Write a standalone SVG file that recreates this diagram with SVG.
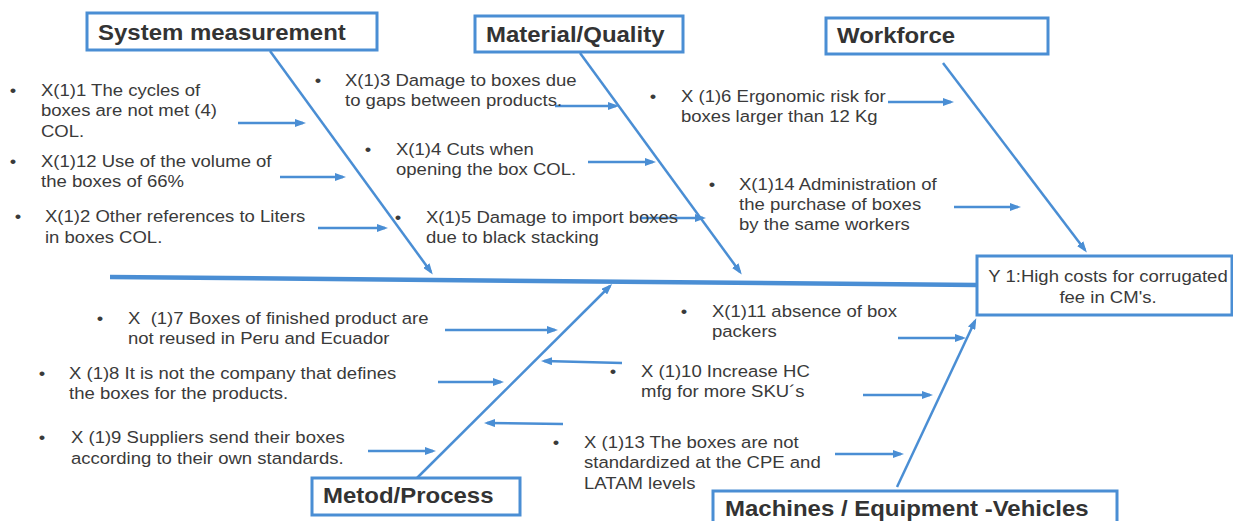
<svg xmlns="http://www.w3.org/2000/svg" width="1233" height="521" viewBox="0 0 1233 521">
<style>
.t{font-family:"Liberation Sans",Arial,sans-serif;font-size:17px;fill:#3a3a3a;white-space:pre}
.b{text-anchor:middle}
.h{font-family:"Liberation Sans",Arial,sans-serif;font-size:22px;font-weight:bold;fill:#333}
.box{fill:#fff;stroke:#4a8ed4;stroke-width:3}
.ln{stroke:#4a8ed4;stroke-width:2.5;fill:none}
.sp{stroke:#4a8ed4;stroke-width:4.5;fill:none}
.ar{marker-end:url(#ah)}
</style>
<defs>
<marker id="ah" markerWidth="11" markerHeight="8" refX="8" refY="4" orient="auto" markerUnits="userSpaceOnUse">
<path d="M0,0 L11,4 L0,8 z" fill="#4a8ed4"/>
</marker>
</defs>
<rect width="1233" height="521" fill="#fff"/>

<g id="connectors">
<line class="sp" x1="110" y1="277" x2="977" y2="285"/>
<line class="ln ar" x1="270" y1="51" x2="431" y2="272"/>
<line class="ln ar" x1="580" y1="53" x2="740" y2="272"/>
<line class="ln ar" x1="943" y1="63" x2="1085" y2="250"/>
<line class="ln ar" x1="417" y1="478" x2="610" y2="286"/>
<line class="ln ar" x1="897" y1="487" x2="975" y2="321"/>
<line class="ln ar" x1="238" y1="123" x2="303" y2="123"/>
<line class="ln ar" x1="280" y1="177" x2="343" y2="177"/>
<line class="ln ar" x1="318" y1="228" x2="385" y2="228"/>
<line class="ln ar" x1="555" y1="106" x2="616" y2="106"/>
<line class="ln ar" x1="588" y1="162" x2="653" y2="162"/>
<line class="ln ar" x1="640" y1="218" x2="703" y2="218"/>
<line class="ln ar" x1="888" y1="102" x2="951" y2="102"/>
<line class="ln ar" x1="954" y1="207" x2="1018" y2="207"/>
<line class="ln ar" x1="445" y1="330" x2="555" y2="330"/>
<line class="ln ar" x1="438" y1="382" x2="501" y2="382"/>
<line class="ln ar" x1="368" y1="451" x2="433" y2="451"/>
<line class="ln ar" x1="622" y1="363" x2="544" y2="361"/>
<line class="ln ar" x1="563" y1="424" x2="487" y2="423"/>
<line class="ln ar" x1="898" y1="338" x2="963" y2="338"/>
<line class="ln ar" x1="863" y1="395" x2="930" y2="395"/>
<line class="ln ar" x1="835" y1="454" x2="901" y2="454"/>
</g>

<g id="system-measurement">
<rect class="box" x="87" y="13" width="290" height="37"/>
<g transform="translate(98,40) scale(1.09,1)"><text class="h" x="0" y="0">System measurement</text></g>
</g>
<g id="material-quality">
<rect class="box" x="475" y="16" width="208" height="36"/>
<g transform="translate(486,42) scale(1.09,1)"><text class="h" x="0" y="0">Material/Quality</text></g>
</g>
<g id="workforce">
<rect class="box" x="826" y="18" width="222" height="36"/>
<g transform="translate(837,43) scale(1.09,1)"><text class="h" x="0" y="0">Workforce</text></g>
</g>
<g id="metod-process">
<rect class="box" x="312" y="478" width="208" height="37"/>
<g transform="translate(323,503) scale(1.09,1)"><text class="h" x="0" y="0">Metod/Process</text></g>
</g>
<g id="machines">
<rect class="box" x="713" y="491" width="404" height="40"/>
<g transform="translate(725,516) scale(1.09,1)"><text class="h" x="0" y="0">Machines / Equipment -Vehicles</text></g>
</g>
<g id="effect">
<rect class="box" x="977" y="256" width="255" height="59"/>
<g transform="translate(1108,282) scale(1.09,1)">
<text class="t b" x="0" y="0">Y 1:High costs for corrugated</text>
<text class="t b" x="0" y="21">fee in CM's.</text>
</g>
</g>

<g id="cause-1" transform="translate(41,96) scale(1.09,1)">
<text class="t b" x="-25.7" y="0">•</text>
<text class="t" x="0" y="0">X(1)1 The cycles of</text>
<text class="t" x="0" y="20">boxes are not met (4)</text>
<text class="t" x="0" y="41">COL.</text>
</g>
<g id="cause-12" transform="translate(41,167) scale(1.09,1)">
<text class="t b" x="-25.7" y="0">•</text>
<text class="t" x="0" y="0">X(1)12 Use of the volume of</text>
<text class="t" x="0" y="20">the boxes of 66%</text>
</g>
<g id="cause-2" transform="translate(45,222) scale(1.09,1)">
<text class="t b" x="-24.8" y="0">•</text>
<text class="t" x="0" y="0">X(1)2 Other references to Liters</text>
<text class="t" x="0" y="21">in boxes COL.</text>
</g>
<g id="cause-3" transform="translate(345,86) scale(1.09,1)">
<text class="t b" x="-24.8" y="0">•</text>
<text class="t" x="0" y="0">X(1)3 Damage to boxes due</text>
<text class="t" x="0" y="20">to gaps between products.</text>
</g>
<g id="cause-4" transform="translate(396,155) scale(1.09,1)">
<text class="t b" x="-25.7" y="0">•</text>
<text class="t" x="0" y="0">X(1)4 Cuts when</text>
<text class="t" x="0" y="20">opening the box COL.</text>
</g>
<g id="cause-5" transform="translate(426,223) scale(1.09,1)">
<text class="t b" x="-25.7" y="0">•</text>
<text class="t" x="0" y="0">X(1)5 Damage to import boxes</text>
<text class="t" x="0" y="20">due to black stacking</text>
</g>
<g id="cause-6" transform="translate(681,102) scale(1.09,1)">
<text class="t b" x="-25.7" y="0">•</text>
<text class="t" x="0" y="0">X (1)6 Ergonomic risk for</text>
<text class="t" x="0" y="20">boxes larger than 12 Kg</text>
</g>
<g id="cause-14" transform="translate(739,190) scale(1.09,1)">
<text class="t b" x="-24.8" y="0">•</text>
<text class="t" x="0" y="0">X(1)14 Administration of</text>
<text class="t" x="0" y="20">the purchase of boxes</text>
<text class="t" x="0" y="40">by the same workers</text>
</g>
<g id="cause-7" transform="translate(128,324) scale(1.09,1)">
<text class="t b" x="-25.7" y="0">•</text>
<text class="t" x="0" y="0">X  (1)7 Boxes of finished product are</text>
<text class="t" x="0" y="20">not reused in Peru and Ecuador</text>
</g>
<g id="cause-8" transform="translate(69,379) scale(1.09,1)">
<text class="t b" x="-24.8" y="0">•</text>
<text class="t" x="0" y="0">X (1)8 It is not the company that defines</text>
<text class="t" x="0" y="20">the boxes for the products.</text>
</g>
<g id="cause-9" transform="translate(71,443) scale(1.09,1)">
<text class="t b" x="-26.6" y="0">•</text>
<text class="t" x="0" y="0">X (1)9 Suppliers send their boxes</text>
<text class="t" x="0" y="21">according to their own standards.</text>
</g>
<g id="cause-11" transform="translate(712,317) scale(1.09,1)">
<text class="t b" x="-25.7" y="0">•</text>
<text class="t" x="0" y="0">X(1)11 absence of box</text>
<text class="t" x="0" y="20">packers</text>
</g>
<g id="cause-10" transform="translate(641,377) scale(1.09,1)">
<text class="t b" x="-25.7" y="0">•</text>
<text class="t" x="0" y="0">X (1)10 Increase HC</text>
<text class="t" x="0" y="20">mfg for more SKU´s</text>
</g>
<g id="cause-13" transform="translate(584,448) scale(1.09,1)">
<text class="t b" x="-25.7" y="0">•</text>
<text class="t" x="0" y="0">X (1)13 The boxes are not</text>
<text class="t" x="0" y="20">standardized at the CPE and</text>
<text class="t" x="0" y="41">LATAM levels</text>
</g>
</svg>
